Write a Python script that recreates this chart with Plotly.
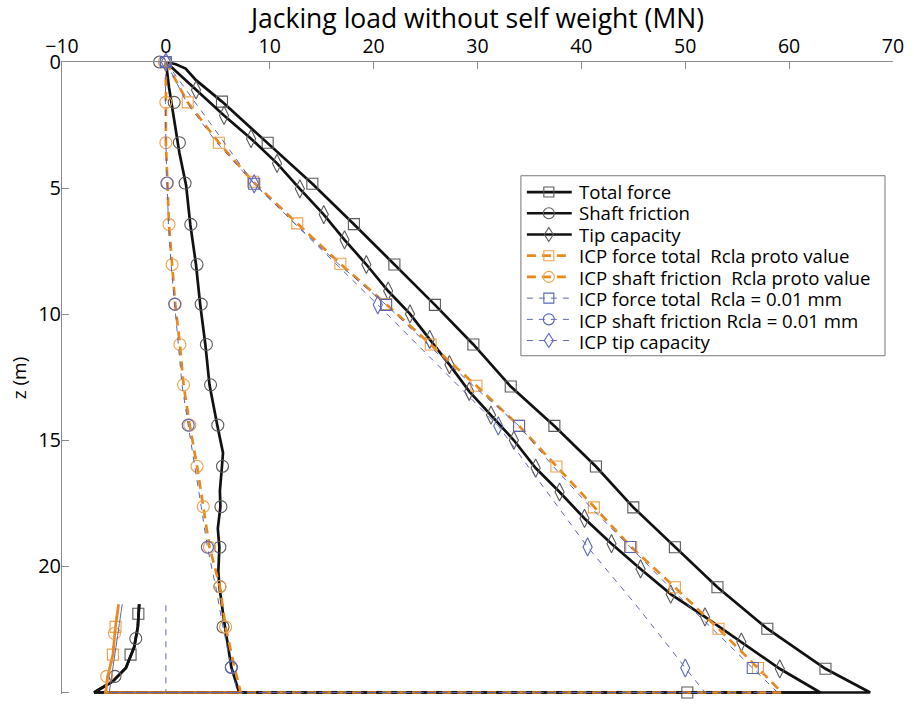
import plotly.graph_objects as go

# ---- measured pile jacking data (depth z in m, load in MN) ----
total_z = [0.0, 0.09, 0.26, 0.72, 1.57, 3.2, 4.83, 6.43, 8.03, 9.63, 11.2, 12.87, 14.43,
           16.04, 17.66, 19.24, 20.83, 22.47, 24.06, 25.0, 25.0, 24.55, 24.03, 23.2, 22.4, 21.5]
total_mn = [0.0, 0.96, 1.9, 2.9, 5.4, 9.8, 14.1, 18.1, 22.0, 25.9, 29.6, 33.2, 37.4,
            41.4, 45.0, 49.0, 53.1, 57.9, 63.5, 67.8, -6.9, -5.1, -3.85, -3.05, -2.7, -2.57]
total_mk_z = [1.57, 3.2, 4.83, 6.43, 8.03, 9.63, 11.2, 12.87, 14.43, 16.04, 17.66, 19.24,
              20.83, 22.47, 24.06, 25.0, 21.88, 23.5]
total_mk_mn = [5.4, 9.8, 14.1, 18.1, 22.0, 25.9, 29.6, 33.2, 37.4, 41.4, 45.0, 49.0,
               53.1, 57.9, 63.5, 50.2, -2.65, -3.4]

shaft_z = [0.0, 1.0, 2.3, 3.6, 4.9, 6.44, 8.03, 9.6, 11.2, 12.8, 14.4, 15.5, 16.03, 17.0,
           17.63, 18.5, 19.24, 20.2, 20.8, 22.15, 24.0, 25.0, 25.0, 24.55, 24.03, 23.2, 22.4, 21.5]
shaft_mn = [0.0, 0.3, 0.8, 1.3, 1.95, 2.35, 2.9, 3.3, 3.8, 4.2, 4.95, 5.5, 5.4, 5.2,
            5.25, 5.0, 5.15, 5.05, 5.15, 5.6, 6.3, 7.05, -6.9, -5.1, -3.85, -3.05, -2.7, -2.57]
shaft_mk_z = [0.0, 1.6, 3.2, 4.8, 6.44, 8.03, 9.6, 11.2, 12.8, 14.4, 16.03, 17.63, 19.24,
              20.8, 22.4, 24.0, 22.86, 24.36]
shaft_mk_mn = [-0.6, 0.8, 1.3, 1.85, 2.4, 3.0, 3.4, 3.9, 4.3, 5.0, 5.45, 5.3, 5.2,
               5.2, 5.5, 6.3, -2.9, -4.9]

tip_z = [0.0, 1.11, 2.12, 3.04, 4.02, 5.03, 6.05, 7.05, 8.03, 9.08, 9.99, 11.0, 12.0, 13.06,
         14.0, 15.0, 16.1, 17.05, 18.1, 19.1, 20.1, 21.1, 22.0, 23.0, 24.06, 25.0, 25.0]
tip_mn = [0.0, 2.9, 5.6, 8.2, 10.7, 12.9, 15.2, 17.2, 19.3, 21.4, 23.5, 25.4, 27.3, 29.2,
          31.3, 33.5, 35.6, 37.9, 40.3, 42.9, 45.7, 48.6, 51.9, 55.4, 59.1, 63.0, 0.0]
tip_mk_z = tip_z[1:-2]
tip_mk_mn = tip_mn[1:-2]

# ---- ICP predictions, Rcla prototype value ----
icp_tot_p_z = [0.0, 1.6, 3.2, 4.75, 6.4, 8.0, 9.6, 11.2, 12.84, 14.43, 16.04, 17.66, 19.23,
               20.83, 22.47, 24.03, 25.0, 25.0, 24.36, 23.5, 22.4, 21.5]
icp_tot_p_mn = [0.0, 2.1, 5.1, 8.4, 12.65, 16.8, 21.2, 25.5, 29.9, 34.0, 37.6, 41.2, 44.8,
                49.0, 53.2, 57.0, 59.3, -5.8, -5.6, -5.1, -4.85, -4.55]
icp_tot_p_mk_z = [1.6, 3.2, 4.75, 6.4, 8.0, 9.6, 11.2, 12.84, 14.43, 16.04, 17.66, 19.23,
                  20.83, 22.47, 24.03, 22.4, 23.5]
icp_tot_p_mk_mn = [2.1, 5.1, 8.4, 12.65, 16.8, 21.2, 25.5, 29.9, 34.0, 37.6, 41.2, 44.8,
                   49.0, 53.2, 57.0, -4.85, -5.1]

icp_sh_p_z = [0.0, 1.6, 3.2, 4.8, 6.44, 8.03, 9.6, 11.2, 12.8, 14.4, 16.03, 17.63, 19.24,
              20.8, 22.4, 24.0, 25.0, 25.0, 24.36, 23.5, 22.4, 21.5]
icp_sh_p_mn = [0.0, 0.0, 0.0, 0.15, 0.3, 0.6, 0.9, 1.35, 1.7, 2.3, 3.0, 3.6, 4.2,
               5.2, 5.75, 6.6, 7.2, -5.8, -5.6, -5.1, -4.85, -4.55]
icp_sh_p_mk_z = [0.0, 1.6, 3.2, 4.8, 6.44, 8.03, 9.6, 11.2, 12.8, 14.4, 16.03, 17.63, 19.24,
                 20.8, 22.4, 22.66, 24.36]
icp_sh_p_mk_mn = [-0.15, 0.0, 0.0, 0.15, 0.3, 0.6, 0.9, 1.35, 1.7, 2.3, 3.0, 3.6, 4.2,
                  5.2, 5.75, -4.95, -5.7]

# ---- ICP predictions, Rcla = 0.01 mm ----
icp_tot_z = [0.0, 1.6, 3.2, 4.83, 6.4, 8.0, 9.63, 11.2, 12.84, 14.43, 16.04, 17.66, 19.23,
             20.83, 22.47, 24.03, 25.0, 25.0, 21.5]
icp_tot_mn = [0.0, 2.0, 4.9, 8.5, 12.4, 16.6, 21.2, 25.2, 29.6, 34.0, 37.3, 40.9, 44.7,
              48.5, 52.6, 56.5, 58.9, -5.45, -4.2]
icp_tot_mk_z = [0.0, 4.83, 9.63, 14.43, 19.23, 24.03]
icp_tot_mk_mn = [0.0, 8.5, 21.2, 34.0, 44.7, 56.5]

icp_sh_z = [0.0, 1.6, 3.2, 4.8, 6.44, 8.03, 9.6, 11.2, 12.8, 14.4, 16.03, 17.63, 19.24,
            20.8, 22.4, 24.0, 25.0, 25.0, 21.5]
icp_sh_mn = [0.0, -0.05, 0.0, 0.1, 0.25, 0.5, 0.85, 1.2, 1.55, 2.15, 2.8, 3.4, 4.0,
             4.8, 5.5, 6.3, 6.9, -5.45, -4.2]
icp_sh_mk_z = [0.0, 4.8, 9.6, 14.4, 19.24, 24.0]
icp_sh_mk_mn = [0.0, 0.1, 0.85, 2.15, 4.0, 6.3]

icp_tip_z = [0.0, 4.83, 9.63, 14.43, 19.23, 21.5, 23.7, 24.03, 25.0, 25.0, 21.4]
icp_tip_mn = [0.0, 8.5, 20.4, 32.0, 40.6, 45.2, 49.4, 50.0, 51.9, 0.0, 0.0]
icp_tip_mk_z = [0.0, 4.83, 9.63, 14.43, 19.23, 24.03]
icp_tip_mk_mn = [0.0, 8.5, 20.4, 32.0, 40.6, 50.0]

legend_labels = [
    "Total force",
    "Shaft friction",
    "Tip capacity",
    "ICP force total\u00a0 Rcla proto value",
    "ICP shaft friction\u00a0 Rcla proto value",
    "ICP force total\u00a0 Rcla = 0.01 mm",
    "ICP shaft friction Rcla = 0.01 mm",
    "ICP tip capacity",
]

BLACK = "#111111"
GREY = "#5a5a5a"
ORANGE = "#e8891e"
ORANGE_MK = "#eea04a"
BLUE = "#5b67b3"

# (line z, line MN, marker z, marker MN, line colour, width, dash, marker colour, symbol, size)
series = [
    (total_z, total_mn, total_mk_z, total_mk_mn, BLACK, 2.7, "solid", GREY, "square", 11),
    (shaft_z, shaft_mn, shaft_mk_z, shaft_mk_mn, BLACK, 2.7, "solid", GREY, "circle", 12),
    (tip_z, tip_mn, tip_mk_z, tip_mk_mn, BLACK, 2.7, "solid", GREY, "diamond-tall", 13),
    (icp_tot_p_z, icp_tot_p_mn, icp_tot_p_mk_z, icp_tot_p_mk_mn,
     ORANGE, 2.7, "9px,6px", ORANGE_MK, "square", 11),
    (icp_sh_p_z, icp_sh_p_mn, icp_sh_p_mk_z, icp_sh_p_mk_mn,
     ORANGE, 2.7, "9px,6px", ORANGE_MK, "circle", 12),
    (icp_tot_z, icp_tot_mn, icp_tot_mk_z, icp_tot_mk_mn,
     BLUE, 1.0, "6px,6px", BLUE, "square", 11),
    (icp_sh_z, icp_sh_mn, icp_sh_mk_z, icp_sh_mk_mn,
     BLUE, 1.0, "6px,6px", BLUE, "circle", 12),
    (icp_tip_z, icp_tip_mn, icp_tip_mk_z, icp_tip_mk_mn,
     BLUE, 1.0, "6px,6px", BLUE, "diamond-tall", 13),
]

W, H = 914, 704
ML, MR, MT, MB = 62, 19, 55, 10
PW, PH = W - ML - MR, H - MT - MB


def px_x(px):
    return (px - ML) / PW


def px_y(py):
    return 1 - (py - MT) / PH


fig = go.Figure()
for name, (z, mn, mz, mmn, lc, lw, dash, mc, sym, msz) in zip(legend_labels, series):
    fig.add_trace(go.Scatter(x=mn, y=z, mode="lines", name=name, showlegend=False,
                             line=dict(color=lc, width=lw, dash=dash), cliponaxis=False,
                             hoverinfo="skip"))
    fig.add_trace(go.Scatter(x=mmn, y=mz, mode="markers", name=name, showlegend=False,
                             marker=dict(symbol=sym + "-open", size=msz, color=mc,
                                         line=dict(width=1.1, color=mc)),
                             cliponaxis=False, hoverinfo="skip"))

# legend panel: frame, then a line sample and marker per row, labels as one text block
shapes = [dict(type="rect", xref="paper", yref="paper",
               x0=px_x(522), x1=px_x(887), y0=px_y(352), y1=px_y(170),
               fillcolor="white", line=dict(color="#777777", width=1), layer="above")]
row0, row_step = 186.5, 21.45
for i, s in enumerate(series):
    lc, lw, dash, mc, sym = s[4], s[5], s[6], s[7], s[8]
    yc = px_y(row0 + i * row_step)
    shapes.append(dict(type="line", xref="paper", yref="paper",
                       x0=px_x(528), x1=px_x(573), y0=yc, y1=yc,
                       line=dict(color=lc, width=lw, dash=dash)))
    mk = dict(xref="paper", yref="paper", xsizemode="pixel", ysizemode="pixel",
              xanchor=px_x(550), yanchor=yc, line=dict(color=mc, width=1.1),
              fillcolor="rgba(0,0,0,0)")
    if sym == "square":
        mk.update(type="rect", x0=-5, x1=5, y0=-5, y1=5)
    elif sym == "circle":
        mk.update(type="circle", x0=-5.5, x1=5.5, y0=-5.5, y1=5.5)
    else:
        mk.update(type="path", path="M0,-7L4.5,0L0,7L-4.5,0Z")
    shapes.append(mk)

# row pitch follows the block font (16.5 px * 1.3); glyphs are set larger inside
legend_text = "<br>".join(f'<span style="font-size:18.6px">{t}</span>' for t in legend_labels)
annotations = [dict(text=legend_text, xref="paper", yref="paper", x=px_x(579),
                    y=px_y(row0 + 3.5 * row_step), xanchor="left", yanchor="middle",
                    align="left", showarrow=False, borderpad=0,
                    font=dict(size=16.5, color="black"))]

axis_grey = "#8a8a8a"
fig.update_layout(
    width=W, height=H,
    margin=dict(l=ML, r=MR, t=MT, b=MB),
    paper_bgcolor="white", plot_bgcolor="white",
    font=dict(family="Open Sans", color="black", size=20),
    showlegend=False,
    shapes=shapes,
    annotations=annotations,
    xaxis=dict(range=[-10, 70], side="top", tickmode="array",
               tickvals=[-10, 0, 10, 20, 30, 40, 50, 60, 70],
               ticks="inside", ticklen=7, tickcolor=axis_grey, showline=True,
               linecolor=axis_grey, linewidth=1, showgrid=False, zeroline=False,
               tickfont=dict(size=19.5),
               title=dict(text="Jacking load without self weight (MN)",
                          font=dict(size=26.5), standoff=4)),
    yaxis=dict(range=[25.06, 0], tickmode="array", tickvals=[0, 5, 10, 15, 20, 25],
               ticks="inside", ticklen=7, tickcolor=axis_grey, showline=True,
               linecolor=axis_grey, linewidth=1, showgrid=False, zeroline=False,
               tickfont=dict(size=20), ticklabelstandoff=-4,
               title=dict(text="z (m)", font=dict(size=19), standoff=6)),
)

fig.write_html("out.html")
